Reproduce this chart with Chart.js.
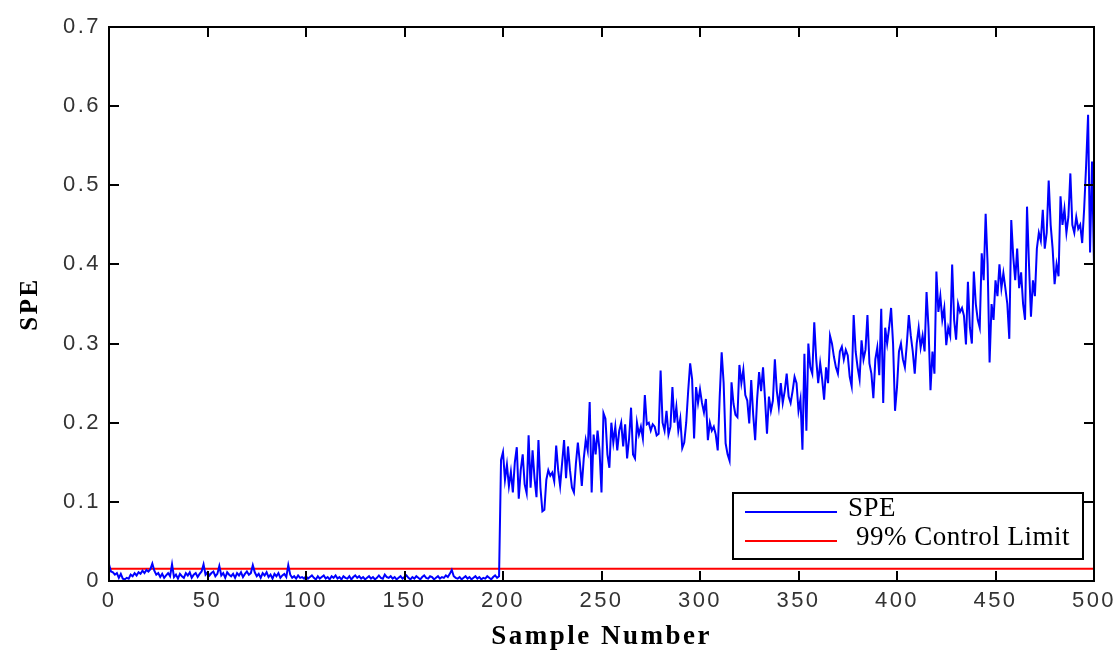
<!DOCTYPE html>
<html lang="en">
<head>
    <meta charset="UTF-8">
    <title>SPE Control Chart</title>
    <script src="https://cdn.jsdelivr.net/npm/chart.js"></script>
    <style>
        html, body { margin: 0; padding: 0; background: #ffffff; }
        .chart-wrap { position: relative; width: 1120px; height: 655px; }
    </style>
</head>
<body>
    <div class="chart-wrap">
        <canvas id="speChart"></canvas>
    </div>

    <script>
        // SPE statistic per sample (sample 0..500)
        const speValues = [
            0.021, 0.012, 0.011, 0.008, 0.010, 0.004, 0.009, 0.003, 0.002, 0.004,
            0.003, 0.008, 0.006, 0.010, 0.007, 0.011, 0.009, 0.013, 0.010, 0.014,
            0.012, 0.015, 0.022, 0.013, 0.008, 0.010, 0.005, 0.009, 0.004, 0.007,
            0.010, 0.006, 0.021, 0.005, 0.008, 0.003, 0.009, 0.006, 0.004, 0.010,
            0.007, 0.011, 0.004, 0.008, 0.010, 0.005, 0.009, 0.012, 0.021, 0.008,
            0.011, 0.007, 0.010, 0.012, 0.006, 0.009, 0.019, 0.007, 0.010, 0.004,
            0.011, 0.008, 0.006, 0.009, 0.004, 0.010, 0.007, 0.011, 0.005, 0.009,
            0.012, 0.008, 0.010, 0.020, 0.011, 0.006, 0.009, 0.004, 0.010, 0.007,
            0.011, 0.005, 0.008, 0.003, 0.009, 0.006, 0.010, 0.004, 0.007, 0.009,
            0.005, 0.020, 0.008, 0.004, 0.006, 0.003, 0.007, 0.004, 0.005, 0.003,
            0.006, 0.003, 0.005, 0.007, 0.004, 0.002, 0.006, 0.003, 0.005, 0.007,
            0.003, 0.005, 0.002, 0.006, 0.004, 0.007, 0.003, 0.005, 0.002, 0.006,
            0.004, 0.003, 0.006, 0.002, 0.005, 0.007, 0.004, 0.006, 0.003, 0.005,
            0.002, 0.004, 0.006, 0.003, 0.005, 0.002, 0.004, 0.007, 0.004, 0.003,
            0.008, 0.005, 0.004, 0.006, 0.003, 0.005, 0.002, 0.004, 0.006, 0.003,
            0.005, 0.007, 0.004, 0.002, 0.005, 0.003, 0.006, 0.004, 0.002, 0.005,
            0.007, 0.004, 0.003, 0.006, 0.005, 0.002, 0.004, 0.006, 0.003, 0.005,
            0.004, 0.007, 0.005, 0.009, 0.014, 0.006, 0.004, 0.003, 0.005, 0.002,
            0.004, 0.006, 0.003, 0.005, 0.002, 0.004, 0.006, 0.003, 0.005, 0.002,
            0.004, 0.003, 0.006, 0.004, 0.002, 0.005, 0.007, 0.004, 0.006, 0.153,
            0.163, 0.128, 0.147, 0.120, 0.138, 0.112, 0.150, 0.169, 0.104, 0.140,
            0.160, 0.122, 0.111, 0.184, 0.118, 0.165, 0.130, 0.106, 0.178, 0.118,
            0.088, 0.090, 0.128, 0.140, 0.133, 0.137, 0.126, 0.171, 0.140, 0.120,
            0.149, 0.178, 0.130, 0.170, 0.140, 0.118, 0.112, 0.148, 0.175, 0.150,
            0.120, 0.155, 0.178, 0.165, 0.226, 0.112, 0.185, 0.160, 0.190, 0.165,
            0.112, 0.212, 0.205, 0.160, 0.143, 0.200, 0.175, 0.195, 0.165, 0.190,
            0.200, 0.170, 0.198, 0.155, 0.180, 0.219, 0.160, 0.155, 0.200, 0.185,
            0.195, 0.180, 0.235, 0.198, 0.200, 0.190, 0.198, 0.195, 0.184, 0.186,
            0.266, 0.200, 0.190, 0.215, 0.185, 0.195, 0.245, 0.200, 0.220, 0.190,
            0.205, 0.168, 0.175, 0.200, 0.240, 0.275, 0.255, 0.180, 0.245, 0.225,
            0.242, 0.225, 0.213, 0.230, 0.178, 0.200, 0.190, 0.195, 0.185, 0.165,
            0.233, 0.289, 0.250, 0.174, 0.160, 0.152, 0.251, 0.224, 0.210, 0.207,
            0.273, 0.250, 0.267, 0.235, 0.228, 0.199, 0.254, 0.210, 0.178, 0.230,
            0.264, 0.240, 0.270, 0.230, 0.186, 0.233, 0.215, 0.228, 0.280, 0.240,
            0.220, 0.250, 0.225, 0.240, 0.262, 0.233, 0.225, 0.240, 0.258, 0.250,
            0.215, 0.230, 0.166, 0.287, 0.190, 0.300, 0.270, 0.262, 0.327, 0.280,
            0.250, 0.275, 0.255, 0.229, 0.270, 0.250, 0.310, 0.300, 0.283, 0.270,
            0.262, 0.290, 0.296, 0.280, 0.292, 0.285, 0.258, 0.246, 0.336, 0.290,
            0.270, 0.255, 0.304, 0.280, 0.292, 0.336, 0.275, 0.262, 0.231, 0.280,
            0.295, 0.260, 0.344, 0.225, 0.320, 0.300, 0.320, 0.345, 0.300, 0.215,
            0.245, 0.290, 0.300, 0.280, 0.270, 0.300, 0.336, 0.310, 0.290, 0.262,
            0.300, 0.320, 0.295, 0.310, 0.290, 0.365, 0.320, 0.241, 0.290, 0.262,
            0.391, 0.340, 0.360, 0.330, 0.345, 0.298, 0.320, 0.310, 0.400, 0.330,
            0.305, 0.350, 0.340, 0.345, 0.335, 0.299, 0.378, 0.320, 0.300, 0.391,
            0.350, 0.330, 0.320, 0.414, 0.380, 0.464, 0.400, 0.276, 0.350, 0.330,
            0.380, 0.360, 0.400, 0.370, 0.389, 0.370, 0.350, 0.306, 0.456, 0.410,
            0.380, 0.420, 0.370, 0.390, 0.350, 0.330, 0.473, 0.400, 0.334, 0.380,
            0.360, 0.420, 0.440, 0.430, 0.469, 0.420, 0.440, 0.506, 0.450, 0.420,
            0.375, 0.400, 0.385, 0.486, 0.450, 0.470, 0.440, 0.460, 0.515, 0.450,
            0.440, 0.460, 0.445, 0.450, 0.427, 0.470, 0.525, 0.589, 0.415, 0.530,
            0.400
        ];
        const controlLimit = 0.0155;      // 99% control limit
        const xRange = [0, 500];
        const yRange = [0, 0.7];
        const xStep = 50;
        const yStep = 0.1;
        const seriesLabels = ['SPE', '99% Control Limit'];
        const seriesColors = ['#0000ff', '#ff0000'];

        const speData = speValues.map((v, i) => ({ x: i, y: v }));
        const limitData = xRange.map(x => ({ x: x, y: controlLimit }));

        // box around the axes, inward ticks on all four sides, framed legend
        const framePlugin = {
            id: 'frame',
            beforeDraw(chart) {
                chart.ctx.letterSpacing = '2.5px';
            },
            afterDraw(chart) {
                const ctx = chart.ctx;
                const a = chart.chartArea;
                const xs = chart.scales.x, ys = chart.scales.y;
                ctx.save();
                ctx.strokeStyle = '#000';
                ctx.lineWidth = 2;
                ctx.strokeRect(a.left, a.top, a.right - a.left, a.bottom - a.top);
                const tl = 10;
                ctx.beginPath();
                xs.ticks.forEach(t => {
                    const px = Math.round(xs.getPixelForValue(t.value));
                    ctx.moveTo(px, a.bottom); ctx.lineTo(px, a.bottom - tl);
                    ctx.moveTo(px, a.top); ctx.lineTo(px, a.top + tl);
                });
                ys.ticks.forEach(t => {
                    const py = Math.round(ys.getPixelForValue(t.value));
                    ctx.moveTo(a.left, py); ctx.lineTo(a.left + tl, py);
                    ctx.moveTo(a.right, py); ctx.lineTo(a.right - tl, py);
                });
                ctx.stroke();

                // legend
                const lx = 733, ly = 493, lw = 350, lh = 66;
                ctx.fillStyle = '#fff';
                ctx.fillRect(lx, ly, lw, lh);
                ctx.lineWidth = 2;
                ctx.strokeRect(lx, ly, lw, lh);
                ctx.letterSpacing = '0.5px';
                ctx.font = '27px "Liberation Serif", "Times New Roman", serif';
                ctx.textBaseline = 'middle';
                ctx.fillStyle = '#000';
                const rows = [
                    { y: 512, textX: 848 },
                    { y: 541, textX: 856 }
                ];
                chart.data.datasets.forEach((ds, i) => {
                    const r = rows[i];
                    ctx.strokeStyle = ds.borderColor;
                    ctx.lineWidth = 2;
                    ctx.beginPath();
                    ctx.moveTo(745, r.y); ctx.lineTo(837, r.y);
                    ctx.stroke();
                    ctx.fillText(ds.label, r.textX, r.y - 3);
                });
                ctx.restore();
            }
        };

        const ctx = document.getElementById('speChart').getContext('2d');
        new Chart(ctx, {
            type: 'line',
            data: {
                datasets: [
                    {
                        label: seriesLabels[0],
                        data: speData,
                        borderColor: seriesColors[0],
                        borderWidth: 2,
                        pointRadius: 0,
                        tension: 0,
                        fill: false
                    },
                    {
                        label: seriesLabels[1],
                        data: limitData,
                        borderColor: seriesColors[1],
                        borderWidth: 2,
                        pointRadius: 0,
                        fill: false
                    }
                ]
            },
            options: {
                responsive: true,
                maintainAspectRatio: false,
                animation: false,
                layout: { padding: { left: 0, right: 26, top: 27, bottom: 0 } },
                plugins: {
                    legend: { display: false },
                    tooltip: { enabled: false }
                },
                scales: {
                    x: {
                        type: 'linear',
                        min: xRange[0], max: xRange[1],
                        grid: { display: false, drawTicks: false },
                        border: { display: false },
                        ticks: {
                            stepSize: xStep,
                            color: '#333',
                            padding: 7,
                            maxRotation: 0,
                            font: { family: 'Liberation Sans, Arial, sans-serif', size: 22 }
                        },
                        title: {
                            display: true,
                            text: 'Sample Number',
                            color: '#000',
                            padding: { top: 0, bottom: 2 },
                            font: { family: 'Liberation Serif, Times New Roman, serif', size: 27, weight: 'bold' }
                        },
                        afterFit(scale) { scale.height = 74; }
                    },
                    y: {
                        min: yRange[0], max: yRange[1],
                        grid: { display: false, drawTicks: false },
                        border: { display: false },
                        ticks: {
                            stepSize: yStep,
                            color: '#333',
                            padding: 8,
                            font: { family: 'Liberation Sans, Arial, sans-serif', size: 22 },
                            callback: v => String(Math.round(v * 10) / 10)
                        },
                        title: {
                            display: true,
                            text: 'SPE',
                            color: '#000',
                            padding: { top: 16, bottom: 0 },
                            font: { family: 'Liberation Serif, Times New Roman, serif', size: 25, weight: 'bold' }
                        },
                        afterFit(scale) { scale.width = 109; }
                    }
                }
            },
            plugins: [framePlugin]
        });
    </script>
</body>
</html>
